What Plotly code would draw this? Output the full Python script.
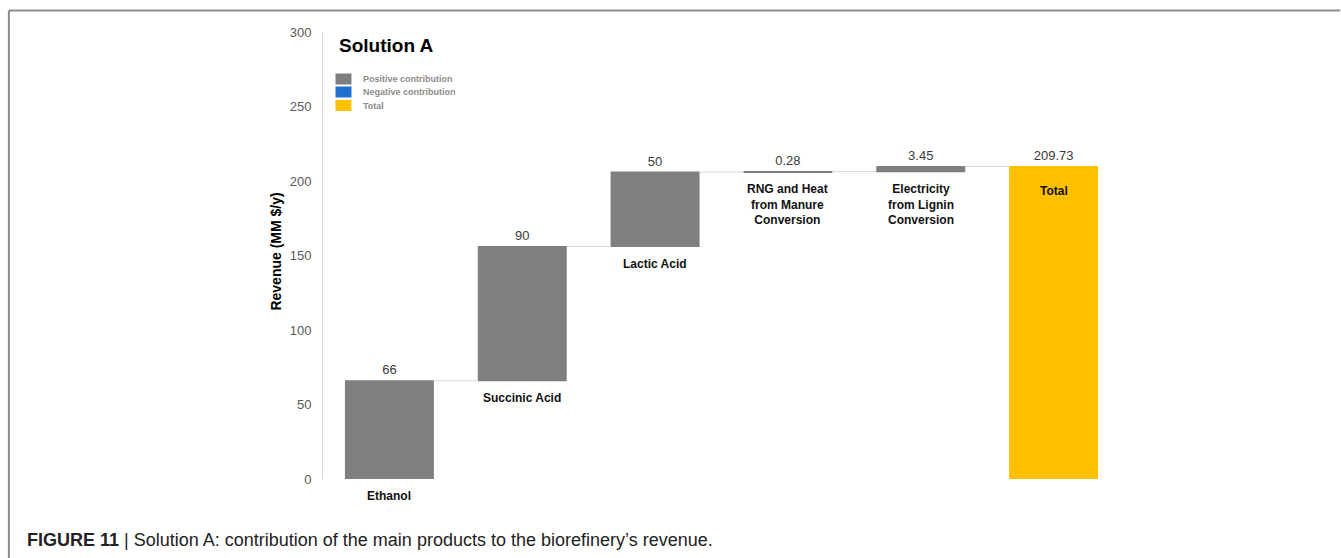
import plotly.graph_objects as go

categories = ["Ethanol", "Succinic Acid", "Lactic Acid",
              "RNG and Heat from Manure Conversion",
              "Electricity from Lignin Conversion", "Total"]
label_lines = ["Ethanol", "Succinic Acid", "Lactic Acid",
               "RNG and Heat<br>from Manure<br>Conversion",
               "Electricity<br>from Lignin<br>Conversion", "Total"]
values = [66, 90, 50, 0.28, 3.45, 209.73]
measures = ["relative", "relative", "relative", "relative", "relative", "total"]
value_text = ["66", "90", "50", "0.28", "3.45", "209.73"]
legend_names = ["Positive contribution", "Negative contribution", "Total"]
legend_colors = ["#7F7F7F", "#1F6FD0", "#FFC000"]
y_ticks = [0, 50, 100, 150, 200, 250, 300]

W, H = 1341, 558
L, R, T, B = 322.5, 220.5, 32, 79
pw, ph = W - L - R, H - T - B

def px_x(p):
    return (p - L) / pw

def px_y(p):
    return (H - B - p) / ph

FONT = "Liberation Sans, Arial, sans-serif"

fig = go.Figure()
fig.add_trace(go.Waterfall(
    x=categories, y=values, measure=measures,
    text=value_text, textposition="outside",
    textfont=dict(family=FONT, size=13, color="#3A3A3A"),
    increasing=dict(marker=dict(color="#7F7F7F")),
    decreasing=dict(marker=dict(color="#1F6FD0")),
    totals=dict(marker=dict(color="#FFC000")),
    connector=dict(line=dict(color="#D9D9D9", width=1)),
    showlegend=False, cliponaxis=False, hoverinfo="skip",
))

# category labels under each floating bar
cum = 0
anns = []
for cat, lab, v, m in zip(categories, label_lines, values, measures):
    if m == "total":
        base, shift = v, -15
    else:
        base, shift = cum, -8
        cum += v
    anns.append(dict(x=cat, y=base, xref="x", yref="y", text="<b>" + lab + "</b>",
                     showarrow=False, yanchor="top", yshift=shift,
                     font=dict(family=FONT, size=12, color="#111111")))

anns.append(dict(x=px_x(337), y=px_y(45), xref="paper", yref="paper",
                 text="<b>Solution A</b>", showarrow=False, xanchor="left",
                 yanchor="middle", font=dict(family=FONT, size=19, color="#000000")))
anns.append(dict(x=px_x(275), y=px_y(252), xref="paper", yref="paper",
                 text="<b>Revenue (MM $/y)</b>", showarrow=False, textangle=-90,
                 xanchor="center", yanchor="middle",
                 font=dict(family=FONT, size=14, color="#000000")))
anns.append(dict(x=px_x(24), y=px_y(540), xref="paper", yref="paper",
                 text="<b>FIGURE 11</b> | Solution A: contribution of the main products to the biorefinery\u2019s revenue.",
                 showarrow=False, xanchor="left", yanchor="middle",
                 font=dict(family=FONT, size=18, color="#222222")))

shapes = [
    dict(type="line", xref="paper", yref="paper", x0=px_x(8), x1=px_x(W),
         y0=px_y(10.5), y1=px_y(10.5), line=dict(color="#8C8C8C", width=2)),
    dict(type="line", xref="paper", yref="paper", x0=px_x(8), x1=px_x(8),
         y0=px_y(10.5), y1=px_y(H), line=dict(color="#8C8C8C", width=2)),
]

# legend (manual, compact)
leg_y = [79, 92, 105.5]
for name, col, yc in zip(legend_names, legend_colors, leg_y):
    shapes.append(dict(type="rect", xref="paper", yref="paper",
                       x0=px_x(335), x1=px_x(351), y0=px_y(yc - 5.5), y1=px_y(yc + 5.5),
                       fillcolor=col, line=dict(width=0)))
    anns.append(dict(x=px_x(361), y=px_y(yc), xref="paper", yref="paper",
                     text="<b>" + name + "</b>", showarrow=False, xanchor="left",
                     yanchor="middle", font=dict(family=FONT, size=9, color="#8C8C8C")))

fig.update_layout(
    width=W, height=H,
    margin=dict(l=L, r=R, t=T, b=B, autoexpand=False),
    paper_bgcolor="white", plot_bgcolor="white",
    font=dict(family=FONT),
    waterfallgap=0.33,
    showlegend=False,
    annotations=anns, shapes=shapes,
    xaxis=dict(showticklabels=False, showline=False, showgrid=False,
               zeroline=False, ticks="", range=[-0.5, 5.5]),
    yaxis=dict(range=[0, 300], tickvals=y_ticks, showgrid=False, zeroline=False,
               showline=True, linecolor="#D9D9D9", linewidth=1,
               ticks="", ticklabelstandoff=8,
               tickfont=dict(family=FONT, size=13, color="#595959")),
)

fig.write_html("out.html")
